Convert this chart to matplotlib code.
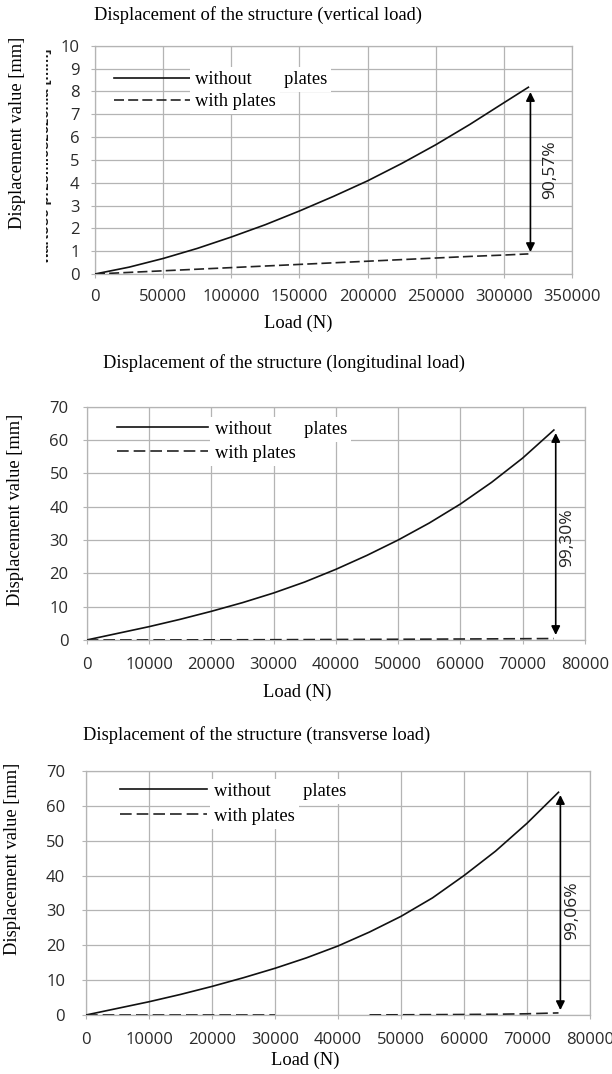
import numpy as np
import matplotlib
matplotlib.use("Agg")
import matplotlib.pyplot as plt
from matplotlib.patches import Rectangle

# vertical load
v_load = [0, 25000, 50000, 75000, 100000, 125000, 150000, 175000, 200000,
          225000, 250000, 275000, 300000, 318000]
v_without = [0, 0.30, 0.68, 1.12, 1.62, 2.16, 2.76, 3.40, 4.08, 4.84, 5.66, 6.55, 7.50, 8.18]
v_with = [0, 0.07, 0.14, 0.21, 0.28, 0.35, 0.42, 0.49, 0.56, 0.63, 0.70, 0.77, 0.83, 0.88]

# longitudinal load
l_load = list(range(0, 80000, 5000))
l_without = [0, 2.0, 4.0, 6.2, 8.6, 11.2, 14.1, 17.4, 21.2, 25.4, 30.0, 35.1, 40.8, 47.3, 54.6, 63.0]
l_with = [0, 0.01, 0.02, 0.03, 0.05, 0.07, 0.09, 0.12, 0.16, 0.19, 0.22, 0.26, 0.30, 0.34, 0.39, 0.44]

# transverse load (dashed line has a gap in the source between 30000 and 45000)
t_load = list(range(0, 80000, 5000))
t_without = [0, 1.9, 3.8, 5.9, 8.2, 10.7, 13.4, 16.4, 19.8, 23.8, 28.3, 33.6, 40.0, 47.0, 55.0, 63.9]
t_with = [0, 0, 0, 0, 0, 0, 0, np.nan, np.nan, 0.03, 0.06, 0.10, 0.15, 0.22, 0.35, 0.60]

titles = ["Displacement of the structure (vertical load)",
          "Displacement of the structure (longitudinal load)",
          "Displacement of the structure (transverse load)"]
labels = ["without       plates", "with plates"]
reductions = ["90,57%", "99,30%", "99,06%"]

SERIF = "Liberation Serif"
SANS = "Open Sans"
GRID = "#b4b4b4"

fig = plt.figure(figsize=(6.12, 10.74), dpi=100)


def panel(rect, load, without, with_, xmax, xstep, ymax, ystep, title, title_xy,
          xlab_xy, ylab_xy, leg_xy, handlelen, textpad, spacing, dash, arrow,
          pct_xy, pct, pads):
    ax = fig.add_axes(rect)
    ax.plot(load, without, color="#111111", lw=1.2, zorder=3)
    ax.plot(load, with_, color="#222222", lw=1.2, dashes=dash, zorder=3)
    ax.set_xlim(0, xmax)
    ax.set_ylim(0, ymax)
    ax.set_xticks(np.arange(0, xmax + 1, xstep))
    ax.set_yticks(np.arange(0, ymax + 1, ystep))
    ax.grid(True, color=GRID, lw=0.9)
    ax.set_axisbelow(True)
    for s in ax.spines.values():
        s.set_color(GRID)
        s.set_linewidth(0.9)
    ax.tick_params(direction="out", length=3, color=GRID, labelsize=12,
                   labelcolor="#2a2a2a")
    ax.tick_params(axis="x", pad=pads[0])
    ax.tick_params(axis="y", pad=pads[1])
    for t in ax.get_xticklabels() + ax.get_yticklabels():
        t.set_family(SANS)

    ax.set_xlabel("Load (N)", family=SERIF, fontsize=13.3, va="center")
    ax.xaxis.set_label_coords(*xlab_xy)
    ax.set_ylabel("Displacement value [mm]", family=SERIF, fontsize=13.3, va="center")
    ax.yaxis.set_label_coords(*ylab_xy)
    fig.text(title_xy[0], title_xy[1], title, family=SERIF, fontsize=13.3,
             ha="center", va="center")

    leg = ax.legend(labels, loc="upper left", bbox_to_anchor=leg_xy, frameon=False,
                    borderpad=0, borderaxespad=0, handlelength=handlelen,
                    handletextpad=textpad, labelspacing=spacing,
                    prop={"family": SERIF, "size": 13.3})
    for t in leg.get_texts():
        t.set_bbox(dict(facecolor="white", edgecolor="none", pad=3))

    ax.annotate("", xy=(arrow[0], arrow[2]), xytext=(arrow[0], arrow[1]),
                arrowprops=dict(arrowstyle="<|-|>", color="black", lw=1.2,
                                mutation_scale=13, shrinkA=0, shrinkB=0), zorder=4)
    ax.text(pct_xy[0], pct_xy[1], pct, family=SANS, fontsize=12.5, rotation=90,
            ha="center", va="center", color="#222222")
    return ax


panel([95 / 612, 1 - 274 / 1074, 477 / 612, 228.3 / 1074],
      v_load, v_without, v_with, 350000, 50000, 10, 1, titles[0],
      (258 / 612, 1 - 15 / 1074), (0.4256, -0.215), (-0.1635, 0.6176),
      (0.04, 0.889), 4.2, 0.16, 0.27, (6, 2.5), (319500, 7.97, 0.96),
      (334000, 4.55), reductions[0], (8, 8))

panel([86.7 / 612, 1 - 640 / 1074, 498.3 / 612, 233.3 / 1074],
      l_load, l_without, l_with, 80000, 10000, 70, 10, titles[1],
      (284 / 612, 1 - 363 / 1074), (0.422, -0.223), (-0.142, 0.557),
      (0.061, 0.939), 4.9, 0.38, 0.38, (7, 3), (75300, 62.1, 1.5),
      (77100, 30.6), reductions[1], (9, 10))

panel([86 / 612, 1 - 1015 / 1074, 504 / 612, 244 / 1074],
      t_load, t_without, t_with, 80000, 10000, 70, 10, titles[2],
      (257 / 612, 1 - 735 / 1074), (0.4345, -0.184), (-0.145, 0.639),
      (0.0675, 0.951), 4.7, 0.38, 0.43, (7, 3), (75300, 63.1, 1.4),
      (77100, 30.0), reductions[2], (9, 12))

# leftover, half-hidden Polish axis title in the first panel
clip = Rectangle((46.5 / 612, 0.70), 0.05, 0.29, transform=fig.transFigure)
ghost = fig.text(45.5 / 612, 1 - 156 / 1074, "wartość przemieszczenia [mm]",
                 family="Liberation Sans", weight="bold", fontsize=10.5,
                 rotation=90, ha="center", va="center", color="#1a1a1a", clip_on=True)
ghost.set_clip_path(clip)

fig.savefig("out.png", dpi=100)
